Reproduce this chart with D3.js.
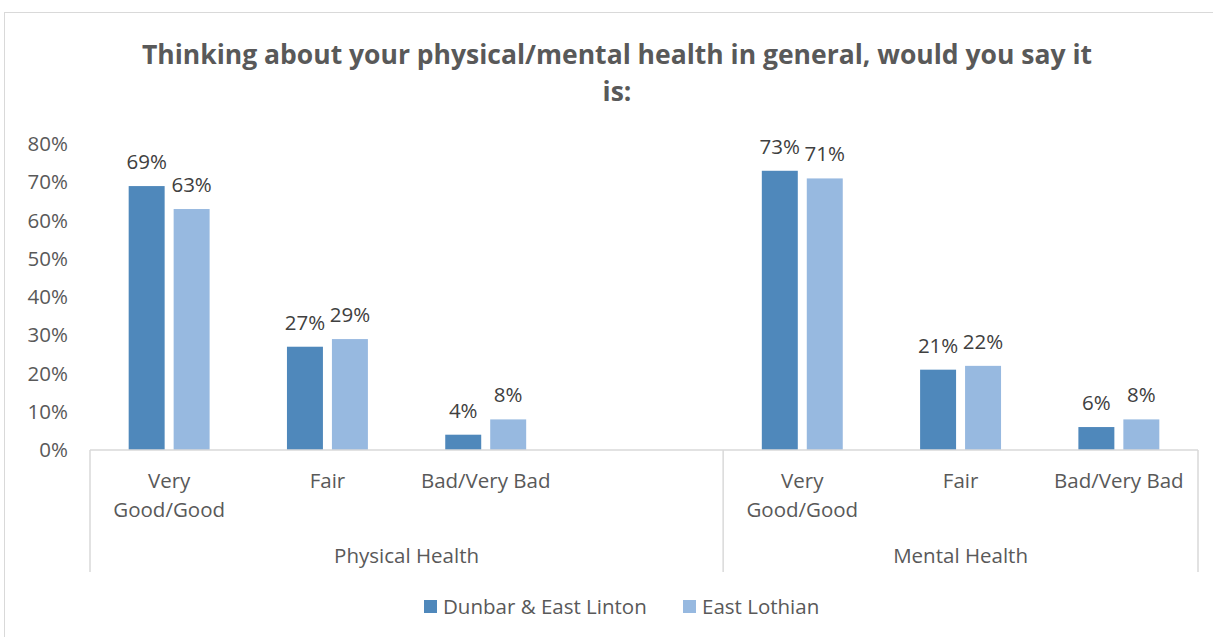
<!DOCTYPE html>
<html>
<head>
<meta charset="utf-8">
<script src="https://cdn.jsdelivr.net/npm/d3@7"></script>
<style>
  body { margin: 0; background: #fff; }
  svg { font-family: "Open Sans", sans-serif; }
</style>
</head>
<body>
<div id="chart"></div>
<script>
// data
var groups = ["Physical Health", "Mental Health"];
var categories = ["Very Good/Good", "Fair", "Bad/Very Bad"];
var seriesNames = ["Dunbar & East Linton", "East Lothian"];
var dunbar = [[69, 27, 4], [73, 21, 6]];
var eastLothian = [[63, 29, 8], [71, 22, 8]];
var yTicks = [0, 10, 20, 30, 40, 50, 60, 70, 80];
var colors = ["#4f88bb", "#97b9e0"];

// slots: physical has an empty 4th slot
var slots = [
  {g: 0, c: 0}, {g: 0, c: 1}, {g: 0, c: 2}, {g: 0, c: null},
  {g: 1, c: 0}, {g: 1, c: 1}, {g: 1, c: 2}
];

var W = 1213, H = 637;
var plot = {left: 90, right: 1198, top: 144, bottom: 450};
var textColor = "#595959";
var fs = 20.5;

var svg = d3.select("#chart").append("svg")
    .attr("width", W)
    .attr("height", H);

// chart border
svg.append("rect")
    .attr("x", 4.5).attr("y", 12.5)
    .attr("width", W + 10).attr("height", H + 10)
    .attr("fill", "none")
    .attr("stroke", "#d9d9d9");

// title
var title = svg.append("text")
    .attr("text-anchor", "middle")
    .attr("fill", textColor)
    .attr("font-size", 26.5)
    .attr("font-weight", "bold");
title.append("tspan").attr("x", 617).attr("y", 64)
    .text("Thinking about your physical/mental health in general, would you say it");
title.append("tspan").attr("x", 617).attr("y", 101).text("is:");

// scales
var x = d3.scaleBand()
    .domain(d3.range(slots.length))
    .range([plot.left, plot.right]);

var xInner = d3.scaleBand()
    .domain([0, 1])
    .range([0, x.bandwidth()])
    .paddingInner(0.2)
    .paddingOuter(0.86);

var y = d3.scaleLinear()
    .domain([0, 80])
    .range([plot.bottom, plot.top]);

// y axis labels
svg.append("g").selectAll("text")
    .data(yTicks)
    .enter().append("text")
    .attr("x", 68)
    .attr("y", function(d) { return y(d); })
    .attr("dy", "0.35em")
    .attr("text-anchor", "end")
    .attr("fill", textColor)
    .attr("font-size", fs)
    .text(function(d) { return d + "%"; });

// bars
var barData = [];
slots.forEach(function(s, i) {
  if (s.c === null) return;
  barData.push({slot: i, s: 0, v: dunbar[s.g][s.c]});
  barData.push({slot: i, s: 1, v: eastLothian[s.g][s.c]});
});

svg.append("g").selectAll("rect")
    .data(barData)
    .enter().append("rect")
    .attr("x", function(d) { return x(d.slot) + xInner(d.s); })
    .attr("y", function(d) { return y(d.v); })
    .attr("width", xInner.bandwidth())
    .attr("height", function(d) { return y(0) - y(d.v); })
    .attr("fill", function(d) { return colors[d.s]; });

// data labels
svg.append("g").selectAll("text")
    .data(barData)
    .enter().append("text")
    .attr("x", function(d) { return x(d.slot) + xInner(d.s) + xInner.bandwidth() / 2; })
    .attr("y", function(d) { return y(d.v) - 17; })
    .attr("text-anchor", "middle")
    .attr("fill", "#404040")
    .attr("font-size", fs)
    .text(function(d) { return d.v + "%"; });

// axis lines
var axis = svg.append("g")
    .attr("stroke", "#d9d9d9")
    .attr("stroke-width", 1.5);
axis.append("line")
    .attr("x1", plot.left).attr("x2", plot.right)
    .attr("y1", plot.bottom).attr("y2", plot.bottom);
[0, 4, 7].forEach(function(i) {
  var xx = i < slots.length ? x(i) : plot.right;
  axis.append("line")
      .attr("x1", xx).attr("x2", xx)
      .attr("y1", plot.bottom).attr("y2", 572);
});

// category labels
slots.forEach(function(s, i) {
  if (s.c === null) return;
  var label = categories[s.c];
  var lines = label === "Very Good/Good" ? ["Very", "Good/Good"] : [label];
  var t = svg.append("text")
      .attr("text-anchor", "middle")
      .attr("fill", textColor)
      .attr("font-size", fs);
  lines.forEach(function(l, k) {
    t.append("tspan")
        .attr("x", x(i) + x.bandwidth() / 2)
        .attr("y", 488 + k * 29)
        .text(l);
  });
});

// group labels
groups.forEach(function(g, gi) {
  var start = gi === 0 ? x(0) : x(4);
  var end = gi === 0 ? x(4) : plot.right;
  svg.append("text")
      .attr("x", (start + end) / 2)
      .attr("y", 563)
      .attr("text-anchor", "middle")
      .attr("fill", textColor)
      .attr("font-size", fs)
      .text(g);
});

// legend
var legendX = [424, 683];
var legend = svg.append("g");
seriesNames.forEach(function(n, i) {
  legend.append("rect")
      .attr("x", legendX[i]).attr("y", 600)
      .attr("width", 13).attr("height", 13)
      .attr("fill", colors[i]);
  legend.append("text")
      .attr("x", legendX[i] + 19).attr("y", 614)
      .attr("fill", textColor)
      .attr("font-size", fs)
      .text(n);
});
</script>
</body>
</html>
